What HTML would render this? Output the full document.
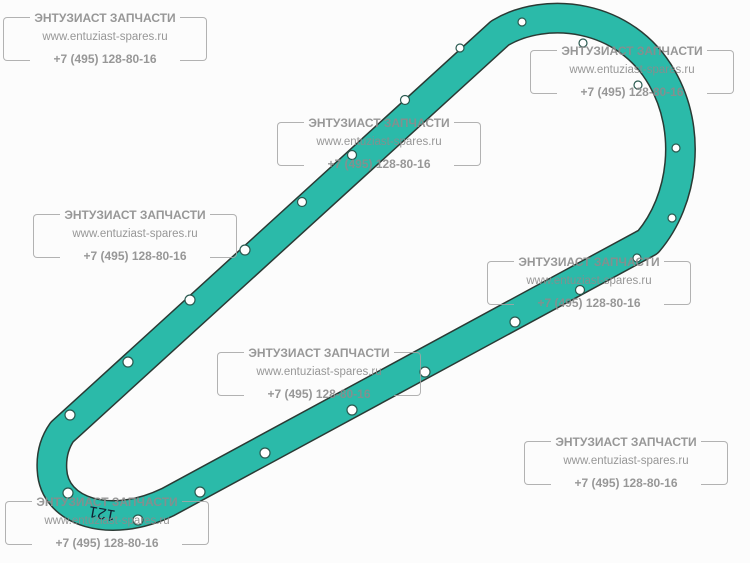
<!DOCTYPE html><html><head><style>
body{margin:0;width:750px;height:563px;background:#fcfcfc;overflow:hidden;position:relative;font-family:"Liberation Sans",sans-serif}
.w{position:absolute;width:204px;height:56px;color:rgba(140,140,140,.9);text-align:center}
.l,.r{position:absolute;top:7px;width:26px;height:42px;border:1.5px solid rgba(165,165,165,.85)}
.l{left:0;border-right:none;border-radius:4px 0 0 4px}
.r{right:0;border-left:none;border-radius:0 4px 4px 0}
.t{position:absolute;left:0;width:204px;font-size:12px;font-weight:bold;white-space:nowrap}
.t1{top:1px}
.t2{top:21px;font-weight:normal;font-size:11.5px}
.t3{top:42px}
</style></head><body>
<svg width="750" height="563" style="position:absolute;left:0;top:0">
<path d="M 62 432 L 500 33 C 545 6, 625 13, 662 78 C 692 130, 684 200, 648 242 L 168 502 C 110 530, 54 512, 52 470 C 51 455, 55 442, 62 432 Z" fill="none" stroke="#2a3a34" stroke-width="31" stroke-linejoin="round"/>
<path d="M 62 432 L 500 33 C 545 6, 625 13, 662 78 C 692 130, 684 200, 648 242 L 168 502 C 110 530, 54 512, 52 470 C 51 455, 55 442, 62 432 Z" fill="none" stroke="#2bbaa9" stroke-width="28" stroke-linejoin="round"/>
<g fill="#fff" stroke="#2a5a50" stroke-width="1.2">
<circle cx="128" cy="362" r="5"/><circle cx="190" cy="300" r="5"/><circle cx="245" cy="250" r="5"/><circle cx="302" cy="202" r="4.5"/><circle cx="352" cy="155" r="4.5"/><circle cx="405" cy="100" r="4.5"/><circle cx="460" cy="48" r="4"/><circle cx="522" cy="22" r="4"/><circle cx="583" cy="43" r="4"/><circle cx="638" cy="85" r="4"/><circle cx="676" cy="148" r="4"/><circle cx="672" cy="218" r="4"/><circle cx="637" cy="258" r="4"/><circle cx="580" cy="290" r="4.5"/><circle cx="515" cy="322" r="5"/><circle cx="425" cy="372" r="5"/><circle cx="352" cy="410" r="5"/><circle cx="265" cy="453" r="5"/><circle cx="200" cy="492" r="5"/><circle cx="138" cy="520" r="5"/><circle cx="68" cy="493" r="5"/><circle cx="70" cy="415" r="5"/>
</g>
<text x="85" y="522" font-family="Liberation Sans" font-size="16" fill="#123" transform="rotate(190 100 515)">121</text>
</svg>
<div class="w" style="left:3px;top:10px"><div class="l"></div><div class="r"></div><div class="t t1">ЭНТУЗИАСТ ЗАПЧАСТИ</div><div class="t t2">www.entuziast-spares.ru</div><div class="t t3">+7 (495) 128-80-16</div></div>
<div class="w" style="left:530px;top:43px"><div class="l"></div><div class="r"></div><div class="t t1">ЭНТУЗИАСТ ЗАПЧАСТИ</div><div class="t t2">www.entuziast-spares.ru</div><div class="t t3">+7 (495) 128-80-16</div></div>
<div class="w" style="left:277px;top:115px"><div class="l"></div><div class="r"></div><div class="t t1">ЭНТУЗИАСТ ЗАПЧАСТИ</div><div class="t t2">www.entuziast-spares.ru</div><div class="t t3">+7 (495) 128-80-16</div></div>
<div class="w" style="left:33px;top:207px"><div class="l"></div><div class="r"></div><div class="t t1">ЭНТУЗИАСТ ЗАПЧАСТИ</div><div class="t t2">www.entuziast-spares.ru</div><div class="t t3">+7 (495) 128-80-16</div></div>
<div class="w" style="left:487px;top:254px"><div class="l"></div><div class="r"></div><div class="t t1">ЭНТУЗИАСТ ЗАПЧАСТИ</div><div class="t t2">www.entuziast-spares.ru</div><div class="t t3">+7 (495) 128-80-16</div></div>
<div class="w" style="left:217px;top:345px"><div class="l"></div><div class="r"></div><div class="t t1">ЭНТУЗИАСТ ЗАПЧАСТИ</div><div class="t t2">www.entuziast-spares.ru</div><div class="t t3">+7 (495) 128-80-16</div></div>
<div class="w" style="left:524px;top:434px"><div class="l"></div><div class="r"></div><div class="t t1">ЭНТУЗИАСТ ЗАПЧАСТИ</div><div class="t t2">www.entuziast-spares.ru</div><div class="t t3">+7 (495) 128-80-16</div></div>
<div class="w" style="left:5px;top:494px"><div class="l"></div><div class="r"></div><div class="t t1">ЭНТУЗИАСТ ЗАПЧАСТИ</div><div class="t t2">www.entuziast-spares.ru</div><div class="t t3">+7 (495) 128-80-16</div></div>
</body></html>
